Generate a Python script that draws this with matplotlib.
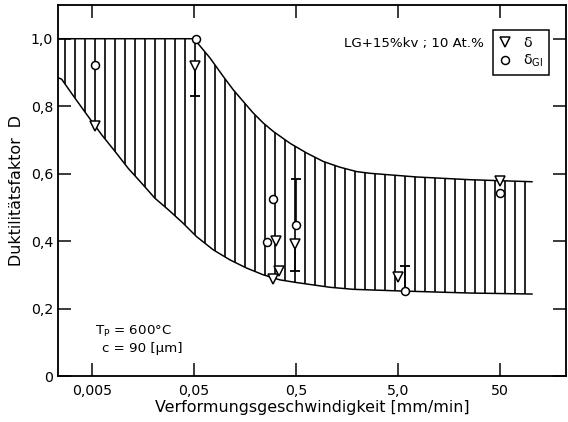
import matplotlib
matplotlib.use('Agg')
from matplotlib import pyplot as plt
from matplotlib.ticker import FixedLocator, NullLocator

# Obere und untere Grenze des schraffierten Streubands
upper_x = [0.0023, 0.05, 0.0717, 0.0969, 0.121, 0.152, 0.19, 0.239, 0.30,
           0.437, 0.637, 0.927, 1.35, 1.97, 2.66, 7.7, 25.4, 103]
upper_y = [1.0, 1.0, 0.943, 0.888, 0.849, 0.814, 0.780, 0.750, 0.725,
           0.690, 0.661, 0.636, 0.619, 0.606, 0.601, 0.590, 0.582, 0.576]

lower_x = [0.0023, 0.00252, 0.0034, 0.0046, 0.00623, 0.0084, 0.0113, 0.0153,
           0.0207, 0.028, 0.0385, 0.0531, 0.0773, 0.113, 0.164, 0.239, 0.348,
           0.508, 0.74, 1.08, 1.82, 5.4, 25.4, 103]
lower_y = [0.885, 0.880, 0.824, 0.769, 0.715, 0.666, 0.616, 0.572,
           0.527, 0.493, 0.455, 0.413, 0.374, 0.344, 0.320, 0.300, 0.285,
           0.277, 0.270, 0.263, 0.257, 0.252, 0.246, 0.243]

# Messwerte delta (Dreiecke) und delta_Gl (Kreise)
tri_x = [0.0054, 0.051, 0.316, 0.34, 0.30, 0.49, 5.0, 50]
tri_y = [0.74, 0.92, 0.40, 0.312, 0.288, 0.39, 0.295, 0.578]
circ_x = [0.0053, 0.052, 0.30, 0.5, 0.262, 5.8, 50.5]
circ_y = [0.923, 1.0, 0.525, 0.448, 0.396, 0.252, 0.543]

# Streubalken: von Messpunkt bis Endwert
eb_x = [0.051, 0.5, 0.49, 5.8]
eb_from = [0.92, 0.448, 0.39, 0.252]
eb_to = [0.83, 0.585, 0.31, 0.326]

x_ticks = [0.005, 0.05, 0.5, 5, 50]
x_labels = ['0,005', '0,05', '0,5', '5,0', '50']
y_ticks = [0, 0.2, 0.4, 0.6, 0.8, 1.0]
y_labels = ['0', '0,2', '0,4', '0,6', '0,8', '1,0']

plt.rcParams['font.family'] = ['DejaVu Sans']
plt.rcParams['hatch.linewidth'] = 1.0

fig = plt.figure(figsize=(568 / 120, 422 / 120), dpi=120)
ax = fig.add_axes([58 / 568, 1 - 376 / 422, 508 / 568, 371 / 422])
ax.set_xscale('log')
ax.set_xlim(0.00232, 222)
ax.set_ylim(0, 1.1)

# Schraffiertes Band
band_x = upper_x + lower_x[::-1]
band_y = upper_y + lower_y[::-1]
ax.fill(band_x, band_y, facecolor='white', edgecolor='black',
        hatch='||', linewidth=0, zorder=1)
ax.plot(upper_x, upper_y, color='black', lw=0.9, zorder=2)
ax.plot(lower_x, lower_y, color='black', lw=0.9, zorder=2)

# Streubalken
ax.vlines(eb_x, eb_from, eb_to, color='black', lw=1.0, zorder=3)
ax.plot(eb_x, eb_to, linestyle='none', marker='_', ms=6, mew=1.1,
        color='black', zorder=3)

ax.plot(tri_x, tri_y, linestyle='none', marker='v', ms=5.5, mfc='white',
        mec='black', mew=0.9, zorder=4, label='δ')
ax.plot(circ_x, circ_y, linestyle='none', marker='o', ms=4.8, mfc='white',
        mec='black', mew=0.9, zorder=4, label='δ$_{\\rm Gl}$')

leg = ax.legend(loc='upper right', bbox_to_anchor=(0.9665, 0.9326),
                fancybox=False, edgecolor='black', framealpha=1,
                handlelength=0.8, handletextpad=0.9, borderpad=0.4,
                borderaxespad=0, labelspacing=0.2, fontsize=8.5)
leg.get_frame().set_linewidth(0.9)

ax.text(0.839, 0.895, 'LG+15%kv ; 10 At.%', transform=ax.transAxes,
        ha='right', va='center', fontsize=8)
ax.text(0.073, 0.121, 'T$_{\\rm P}$ = 600°C', transform=ax.transAxes,
        ha='left', va='center', fontsize=8)
ax.text(0.087, 0.075, 'c = 90 [µm]', transform=ax.transAxes,
        ha='left', va='center', fontsize=8)

ax.xaxis.set_major_locator(FixedLocator(x_ticks))
ax.xaxis.set_minor_locator(NullLocator())
ax.set_xticklabels(x_labels)
ax.set_yticks(y_ticks)
ax.set_yticklabels(y_labels)
ax.tick_params(direction='in', length=8, width=0.9, top=True, right=True,
               labelsize=8.5)
ax.tick_params(axis='x', pad=5)
ax.tick_params(axis='y', pad=3)
for s in ax.spines.values():
    s.set_linewidth(1.1)

ax.set_xlabel('Verformungsgeschwindigkeit [mm/min]', fontsize=9.5, labelpad=1)
ax.set_ylabel('Duktilitätsfaktor  D', fontsize=9.5, labelpad=4)

fig.savefig('out.png', dpi=120)
